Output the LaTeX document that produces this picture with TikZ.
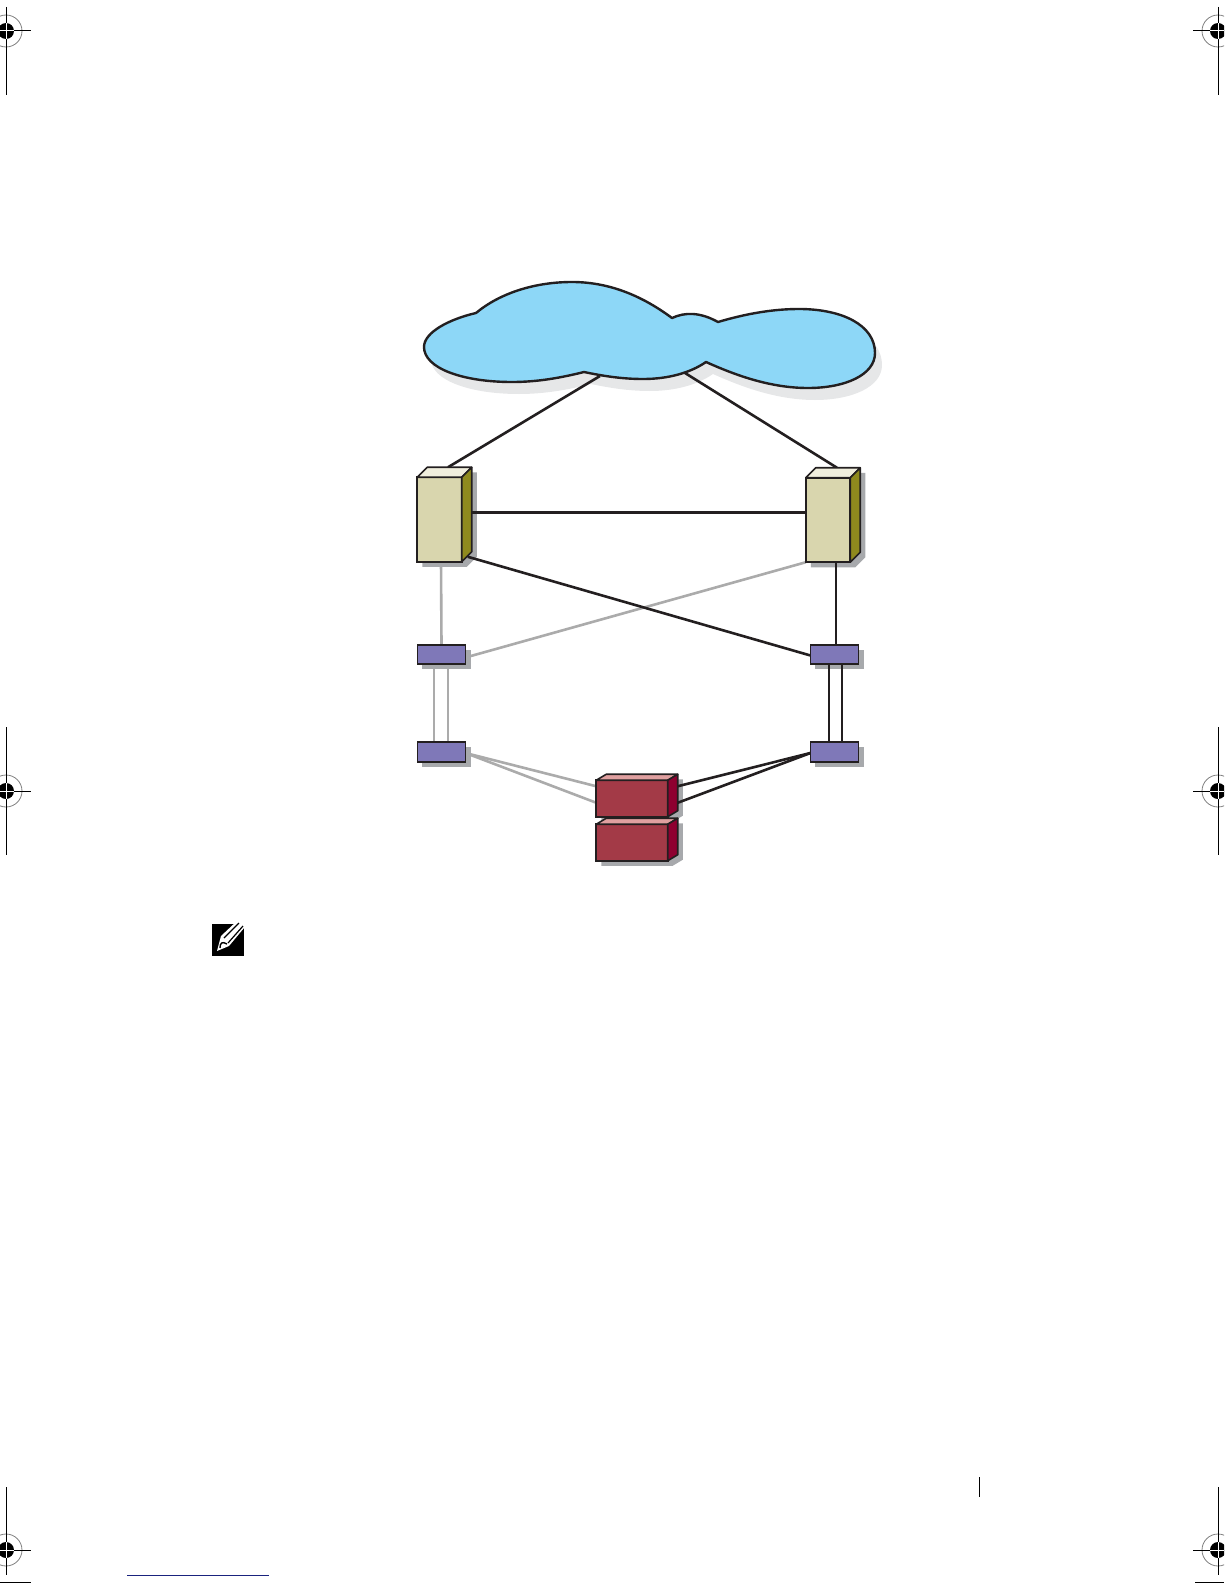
\documentclass[tikz,border=0pt]{standalone}
\usetikzlibrary{calc}
\definecolor{cloudc}{HTML}{8DD7F7}
\definecolor{cloudsh}{HTML}{E6E7E8}
\definecolor{boxsh}{HTML}{A7A9AC}
\definecolor{srvf}{HTML}{D9D6AE}
\definecolor{srvt}{HTML}{F0EEDD}
\definecolor{srvs}{HTML}{8F8A1E}
\definecolor{swc}{HTML}{7F78B8}
\definecolor{stf}{HTML}{A33A47}
\definecolor{stt}{HTML}{E0A0A0}
\definecolor{sts}{HTML}{8E0030}
\definecolor{ink}{HTML}{231F20}
\definecolor{lineg}{HTML}{ABABAB}
\definecolor{navy}{HTML}{1A237E}
\pgfdeclarelayer{grayl}
\pgfdeclarelayer{shad}
\pgfdeclarelayer{blackl}
\pgfsetlayers{grayl,shad,blackl,main}
\tikzset{
  server/.style={draw=ink,line width=1.6pt,fill=srvf,minimum width=44.5pt,minimum height=84.5pt,inner sep=0pt,outer sep=0pt},
  switchbox/.style={draw=ink,line width=1.6pt,fill=swc,minimum width=48pt,minimum height=19.5pt,inner sep=0pt,outer sep=0pt},
  storage/.style={draw=ink,line width=1.6pt,fill=stf,minimum width=71.5pt,minimum height=36.5pt,inner sep=0pt,outer sep=0pt},
  blink/.style={draw=ink,line width=2.6pt},
  glink/.style={draw=lineg,line width=2.6pt},
  face/.style={draw=ink,line width=1.6pt,line join=round},
  cropline/.style={draw=black,line width=1pt}
}
% node, dx, dy, top colour, side colour
\newcommand{\solidbox}[5]{%
  \begin{pgfonlayer}{shad}
    \fill[boxsh] ($(#1.north west)+(5,5)$) -- ($(#1.north west)+(#2+5,5-#3)$) -- ($(#1.north east)+(#2+5,5-#3)$) -- ($(#1.south east)+(#2+5,5-#3)$) -- ($(#1.south east)+(5,5)$) -- ($(#1.south west)+(5,5)$) -- cycle;
  \end{pgfonlayer}
  \draw[face,fill=#4] (#1.north west) -- ++(#2,-#3) -- ($(#1.north east)+(#2,-#3)$) -- (#1.north east) -- cycle;
  \draw[face,fill=#5] (#1.north east) -- ($(#1.north east)+(#2,-#3)$) -- ($(#1.south east)+(#2,-#3)$) -- (#1.south east) -- cycle;
}
\newcommand{\flatshadow}[1]{%
  \begin{pgfonlayer}{shad}
    \fill[boxsh] ($(#1.north west)+(4,5)$) rectangle ($(#1.south east)+(5,5)$);
  \end{pgfonlayer}
}
\newcommand{\cropmark}[4]{% cx, cy, vertical top, vertical bottom
  \draw[gray,line width=.8pt] (#1,#2) circle (16);
  \fill[black] (#1,#2) circle (8);
  \draw[cropline] (#1,#3) -- (#1,#4);
  \draw[cropline] (#1-25,#2) -- (#1+25,#2);
  \draw[white,line width=1pt] (#1-8,#2) -- (#1+8,#2) (#1,#2-8) -- (#1,#2+8);
}
\begin{document}
\begin{tikzpicture}[x=1pt,y=-1pt]
\useasboundingbox (0,0) rectangle (1224,1584);

% crop marks
\begin{scope}
  \clip (0,0) rectangle (1224,1584);
  \cropmark{6}{31}{7}{95}
  \cropmark{6}{791}{727}{855}
  \cropmark{6}{1550}{1487}{1575}
  \cropmark{1218}{31}{7}{95}
  \cropmark{1218}{791}{727}{855}
  \cropmark{1218}{1550}{1487}{1575}
  \draw[cropline] (0,1582) -- (31,1582);
  \draw[cropline] (1195,1582) -- (1224,1582);
\end{scope}
\draw[cropline] (979,1477) -- (979,1497);
\draw[navy,line width=1pt] (127,1575) -- (269,1575);

% cloud
\def\cloudpath{(476,313) .. controls (500,293) and (535,282) .. (572,282) .. controls (612,282) and (645,298) .. (672,318) .. controls (685,312) and (700,312) .. (718,322) .. controls (745,314) and (772,309) .. (799,309) .. controls (842,309) and (875,325) .. (875,353) .. controls (875,375) and (845,388) .. (808,388) .. controls (770,388) and (735,375) .. (706,362) .. controls (690,373) and (668,379) .. (643,379) .. controls (622,379) and (603,376) .. (584,372) .. controls (560,378) and (537,382) .. (512,382) .. controls (462,382) and (424,368) .. (424,347) .. controls (424,332) and (450,319) .. (476,313) -- cycle}
\begin{pgfonlayer}{shad}
  \fill[cloudsh,shift={(7,12)}] \cloudpath;
\end{pgfonlayer}
\draw[draw=ink,line width=2.4pt,fill=cloudc,line join=round] \cloudpath;
\coordinate (cloudA) at (600,376);
\coordinate (cloudB) at (685,373);

% servers
\node[server] (srvL) at (439.5,519.5) {};
\node[server] (srvR) at (828,520) {};
\solidbox{srvL}{10}{10}{srvt}{srvs}
\solidbox{srvR}{10}{10}{srvt}{srvs}

% switches
\node[switchbox] (swTL) at (441.5,654.5) {};
\node[switchbox] (swTR) at (834.5,654.5) {};
\node[switchbox] (swBL) at (441.5,752) {};
\node[switchbox] (swBR) at (834.5,752) {};
\flatshadow{swTL}\flatshadow{swTR}\flatshadow{swBL}\flatshadow{swBR}

% storage
\node[storage] (stA) at (632,798.5) {};
\node[storage] (stB) at (632,842.5) {};
\solidbox{stB}{10}{6}{stt}{sts}
\solidbox{stA}{10}{6}{stt}{sts}

% connectors
\begin{pgfonlayer}{blackl}
  \draw[blink] (cloudA) -- ($(srvL.north)+(8.5,-10)$);
  \draw[blink] (cloudB) -- ($(srvR.north)+(9,-10)$);
  \draw[blink,line width=3pt] ($(srvL.east)+(10,-7.5)$) -- ($(srvR.west)+(0,-8)$);
  \draw[blink] ($(srvL.south east)+(6,-5)$) -- ($(swTR.west)+(0,1)$);
  \draw[blink] ($(srvR.south)+(8,0)$) -- ($(swTR.north)+(1.5,0)$);
  \draw[blink] ($(swTR.south)+(-5.5,0)$) -- ($(swBR.north)+(-5.5,0)$);
  \draw[blink] ($(swTR.south)+(7.5,0)$) -- ($(swBR.north)+(7.5,0)$);
  \draw[blink] ($(swBR.west)+(0,1)$) -- ($(stA.north east)+(10,6)$);
  \draw[blink] ($(swBR.west)+(0,1)$) -- ($(stA.south east)+(10,-14)$);
\end{pgfonlayer}
\begin{pgfonlayer}{grayl}
  \draw[glink] ($(srvL.south)+(1.5,0)$) -- (swTL.north);
  \draw[glink] (srvR.south west) -- ($(swTL.east)+(0,3)$);
  \draw[glink] ($(swTL.south)+(-7.5,0)$) -- ($(swBL.north)+(-7.5,0)$);
  \draw[glink] ($(swTL.south)+(6.5,0)$) -- ($(swBL.north)+(6.5,0)$);
  \draw[glink] ($(swBL.east)+(0,1)$) -- ($(stA.north west)+(0,6)$);
  \draw[glink] ($(swBL.east)+(0,1)$) -- ($(stA.south west)+(0,-14)$);
\end{pgfonlayer}

% note icon
\fill[black] (212,924) rectangle (244,956);
\fill[white] (217,951) -- (221,936) -- (237,921) -- (244,921) -- (244,928) -- (229,946) -- cycle;
\draw[black,line width=1.2pt] (224,938) -- (239,923);
\draw[black,line width=1.2pt] (228,943) -- (243,926);
\draw[black,line width=1.4pt] (220,948) .. controls (220,943) and (222,941) .. (227,944);
\end{tikzpicture}
\end{document}
